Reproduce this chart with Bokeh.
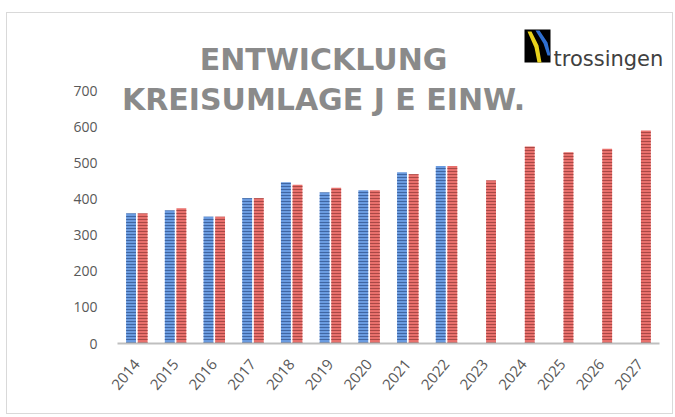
from bokeh.plotting import figure
from bokeh.models import ColumnDataSource, Range1d, Label, BoxAnnotation, PolyAnnotation, FixedTicker
from bokeh.transform import dodge
from bokeh.embed import file_html
from bokeh.resources import INLINE
import math

years = ["2014", "2015", "2016", "2017", "2018", "2019", "2020",
         "2021", "2022", "2023", "2024", "2025", "2026", "2027"]
ist_years = years[:9]
ist_values = [360, 368, 351, 402, 446, 418, 424, 474, 491]
plan_values = [360, 374, 351, 402, 439, 431, 424, 468, 491, 451, 545, 529, 539, 589]
y_ticks = [0, 100, 200, 300, 400, 500, 600, 700]
title_lines = ["ENTWICKLUNG", "KREISUMLAGE J E EINW."]
logo_text = "trossingen"

# positions of categories on a numeric axis (index of each year)
idx = {y: i for i, y in enumerate(years)}
src_ist = ColumnDataSource(dict(x=[idx[y] for y in ist_years], y=ist_values))
src_plan = ColumnDataSource(dict(x=[idx[y] for y in years], y=plan_values))

# layout (pixels)
FRAME_H = 330          # frame height
AXIS_H = 253           # pixels spanned by 0..700
FRAME_W = 555
CAT_W = 38.64

y_top = 700 * FRAME_H / AXIS_H
x_end = -0.5 + FRAME_W / CAT_W

p = figure(width=667, height=402, x_range=Range1d(-0.5, x_end),
           y_range=Range1d(0, y_top), output_backend="svg", toolbar_location=None,
           min_border_left=110, min_border_right=1, min_border_top=0, min_border_bottom=72)
p.styles = {"border": "1px solid #d9d9d9", "margin-left": "6px", "margin-top": "12px"}
p.outline_line_color = None
p.background_fill_color = "white"
p.border_fill_color = "white"

p.vbar(x=dodge("x", -0.15), top="y", width=0.255, source=src_ist,
       fill_color="#6a9be0", line_color=None, hatch_pattern="horizontal_line",
       hatch_color="#3f66a3", hatch_scale=3, hatch_weight=1)
p.vbar(x=dodge("x", 0.15), top="y", width=0.255, source=src_plan,
       fill_color="#e8706c", line_color=None, hatch_pattern="horizontal_line",
       hatch_color="#a94845", hatch_scale=3, hatch_weight=1)

p.xgrid.visible = False
p.ygrid.visible = False

p.yaxis.ticker = FixedTicker(ticks=y_ticks)
p.yaxis.axis_line_color = None
p.yaxis.major_tick_line_color = None
p.yaxis.minor_tick_line_color = None
p.yaxis.major_label_standoff = 14
p.yaxis.major_label_text_font = "Open Sans"
p.yaxis.major_label_text_font_size = "14px"
p.yaxis.major_label_text_color = "#595959"

p.xaxis.ticker = FixedTicker(ticks=list(range(len(years))))
p.xaxis.major_label_overrides = {i: y for i, y in enumerate(years)}
p.xaxis.bounds = (-0.5, len(years) - 0.5)
p.xaxis.axis_line_color = "#bfbfbf"
p.xaxis.axis_line_width = 2
p.xaxis.major_tick_line_color = None
p.xaxis.minor_tick_line_color = None
p.xaxis.major_label_orientation = math.radians(50)
p.xaxis.major_label_standoff = 12
p.xaxis.major_label_text_font = "Open Sans"
p.xaxis.major_label_text_font_size = "15px"
p.xaxis.major_label_text_color = "#595959"

for txt, xs, ys in [(title_lines[0], 206, 284), (title_lines[1], 206, 244.5)]:
    p.add_layout(Label(x=xs, y=ys, x_units="screen", y_units="screen", text=txt,
                       text_align="center", text_baseline="middle",
                       text_font="DejaVu Sans", text_font_style="bold",
                       text_font_size="30px", text_color="#8a8a8a"))

# logo
p.add_layout(BoxAnnotation(left=407, right=433, bottom=281, top=314,
                           left_units="screen", right_units="screen",
                           bottom_units="screen", top_units="screen",
                           fill_color="black", fill_alpha=1, line_color=None))
p.add_layout(PolyAnnotation(xs=[410, 414, 421, 424, 420, 417], ys=[312, 312, 298, 281, 281, 296],
                            xs_units="screen", ys_units="screen",
                            fill_color="#e8d21c", fill_alpha=1, line_color=None))
p.add_layout(PolyAnnotation(xs=[418, 422, 430, 433, 430, 426], ys=[313, 313, 301, 288, 288, 300],
                            xs_units="screen", ys_units="screen",
                            fill_color="#2f6fd0", fill_alpha=1, line_color=None))
p.add_layout(Label(x=436, y=285, x_units="screen", y_units="screen", text=logo_text,
                   text_align="left", text_baseline="alphabetic",
                   text_font="DejaVu Sans", text_font_size="21px", text_color="#404040"))

open("out.html", "w").write(file_html(p, INLINE))
